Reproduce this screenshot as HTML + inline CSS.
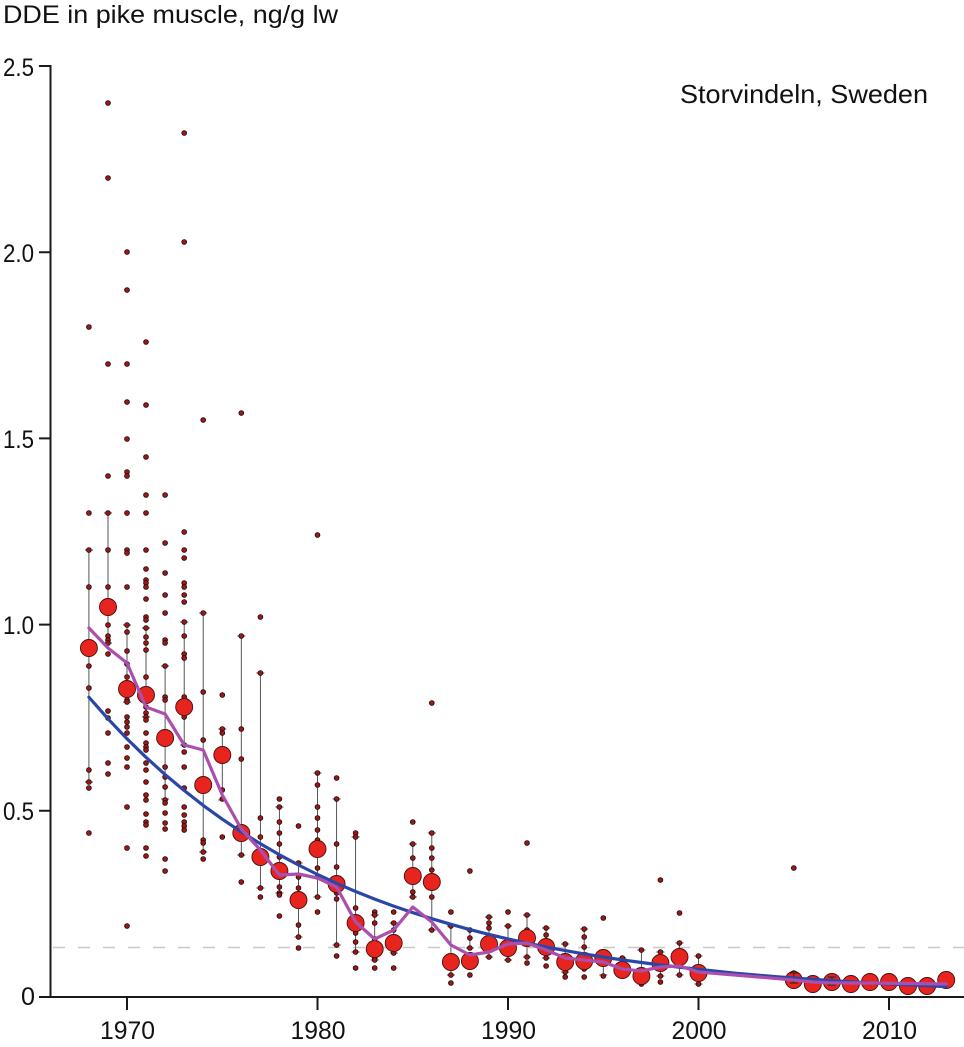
<!DOCTYPE html>
<html><head><meta charset="utf-8"><style>
html,body{margin:0;padding:0;background:#fff;}
svg{display:block;}
text{font-family:"Liberation Sans",sans-serif;fill:#111;}
</style></head><body>
<svg width="964" height="1047" viewBox="0 0 964 1047" xmlns="http://www.w3.org/2000/svg">
<rect width="964" height="1047" fill="#fff"/>
<text x="3" y="23" font-size="25" textLength="335" lengthAdjust="spacingAndGlyphs">DDE in pike muscle, ng/g lw</text>
<text x="680" y="103" font-size="26" textLength="248" lengthAdjust="spacingAndGlyphs">Storvindeln, Sweden</text>
<line x1="53" y1="947.5" x2="964" y2="947.5" stroke="#c8c8c8" stroke-width="1.5" stroke-dasharray="12,13"/>
<g stroke="#444" stroke-width="0.9" fill="none">
<path d="M88.9 550V782M84.9 550h8M84.9 782h8M108 513V643M104 513h8M104 643h8M127 625V702M123 625h8M123 702h8M146 628V717M142 628h8M142 717h8M165.1 666V799M161.1 666h8M161.1 799h8M184.2 622V745M180.2 622h8M180.2 745h8M203.2 613V852M199.2 613h8M199.2 852h8M222.3 729V800M218.3 729h8M218.3 800h8M241.3 636V855M237.3 636h8M237.3 855h8M260.4 673V888M256.4 673h8M256.4 888h8M279.4 807V893M275.4 807h8M275.4 893h8M298.5 863V937M294.5 863h8M294.5 937h8M317.5 773V897M313.5 773h8M313.5 897h8M336.6 799V945M332.6 799h8M332.6 945h8M355.6 837V952M351.6 837h8M351.6 952h8M374.7 915V960M370.7 915h8M370.7 960h8M393.7 923V953M389.7 923h8M389.7 953h8M412.8 844V897M408.8 844h8M408.8 897h8M431.8 833V930M427.8 833h8M427.8 930h8M450.9 926V975M446.9 926h8M446.9 975h8M469.9 930V948M465.9 930h8M465.9 948h8M489 917V957M485 917h8M485 957h8M508 926V960M504 926h8M504 960h8M527 915V957M523 915h8M523 957h8M546.1 928V958M542.1 928h8M542.1 958h8M565.2 944V972M561.2 944h8M561.2 972h8M584.2 929V969M580.2 929h8M580.2 969h8M603.3 950V975M599.3 950h8M599.3 975h8M622.3 958V975M618.3 958h8M618.3 975h8M641.4 950V984M637.4 950h8M637.4 984h8M660.4 952V976M656.4 952h8M656.4 976h8M679.5 943V975M675.5 943h8M675.5 975h8M698.5 956V984M694.5 956h8M694.5 984h8"/>
</g>
<g fill="#9a1818" stroke="#1a0505" stroke-width="0.8">
<g transform="translate(88.9,0)"><circle cy="327" r="2.4"/><circle cy="513" r="2.4"/><circle cy="550" r="2.4"/><circle cy="587" r="2.4"/><circle cy="666" r="2.4"/><circle cy="688" r="2.4"/><circle cy="770" r="2.4"/><circle cy="782" r="2.4"/><circle cy="788" r="2.4"/><circle cy="833" r="2.4"/></g>
<g transform="translate(108,0)"><circle cy="103" r="2.4"/><circle cy="178" r="2.4"/><circle cy="364" r="2.4"/><circle cy="476" r="2.4"/><circle cy="513" r="2.4"/><circle cy="550" r="2.4"/><circle cy="587" r="2.4"/><circle cy="625" r="2.4"/><circle cy="636" r="2.4"/><circle cy="640" r="2.4"/><circle cy="643" r="2.4"/><circle cy="654" r="2.4"/><circle cy="711" r="2.4"/><circle cy="718" r="2.4"/><circle cy="733" r="2.4"/><circle cy="763" r="2.4"/><circle cy="774" r="2.4"/></g>
<g transform="translate(127,0)"><circle cy="252" r="2.4"/><circle cy="290" r="2.4"/><circle cy="364" r="2.4"/><circle cy="402" r="2.4"/><circle cy="439" r="2.4"/><circle cy="472" r="2.4"/><circle cy="476" r="2.4"/><circle cy="513" r="2.4"/><circle cy="550" r="2.4"/><circle cy="553" r="2.4"/><circle cy="587" r="2.4"/><circle cy="625" r="2.4"/><circle cy="632" r="2.4"/><circle cy="651" r="2.4"/><circle cy="664" r="2.4"/><circle cy="677" r="2.4"/><circle cy="687" r="2.4"/><circle cy="700" r="2.4"/><circle cy="702" r="2.4"/><circle cy="717" r="2.4"/><circle cy="722" r="2.4"/><circle cy="727" r="2.4"/><circle cy="733" r="2.4"/><circle cy="747" r="2.4"/><circle cy="758" r="2.4"/><circle cy="767" r="2.4"/><circle cy="807" r="2.4"/><circle cy="848" r="2.4"/><circle cy="926" r="2.4"/></g>
<g transform="translate(146,0)"><circle cy="342" r="2.4"/><circle cy="405" r="2.4"/><circle cy="457" r="2.4"/><circle cy="495" r="2.4"/><circle cy="513" r="2.4"/><circle cy="550" r="2.4"/><circle cy="569" r="2.4"/><circle cy="580" r="2.4"/><circle cy="583" r="2.4"/><circle cy="587" r="2.4"/><circle cy="599" r="2.4"/><circle cy="617" r="2.4"/><circle cy="620" r="2.4"/><circle cy="628" r="2.4"/><circle cy="637" r="2.4"/><circle cy="643" r="2.4"/><circle cy="650" r="2.4"/><circle cy="677" r="2.4"/><circle cy="696" r="2.4"/><circle cy="707" r="2.4"/><circle cy="713" r="2.4"/><circle cy="717" r="2.4"/><circle cy="720" r="2.4"/><circle cy="733" r="2.4"/><circle cy="743" r="2.4"/><circle cy="747" r="2.4"/><circle cy="750" r="2.4"/><circle cy="763" r="2.4"/><circle cy="770" r="2.4"/><circle cy="782" r="2.4"/><circle cy="795" r="2.4"/><circle cy="800" r="2.4"/><circle cy="814" r="2.4"/><circle cy="822" r="2.4"/><circle cy="825" r="2.4"/><circle cy="848" r="2.4"/><circle cy="856" r="2.4"/></g>
<g transform="translate(165.1,0)"><circle cy="495" r="2.4"/><circle cy="543" r="2.4"/><circle cy="573" r="2.4"/><circle cy="595" r="2.4"/><circle cy="613" r="2.4"/><circle cy="640" r="2.4"/><circle cy="643" r="2.4"/><circle cy="666" r="2.4"/><circle cy="697" r="2.4"/><circle cy="700" r="2.4"/><circle cy="767" r="2.4"/><circle cy="777" r="2.4"/><circle cy="787" r="2.4"/><circle cy="800" r="2.4"/><circle cy="803" r="2.4"/><circle cy="813" r="2.4"/><circle cy="823" r="2.4"/><circle cy="829" r="2.4"/><circle cy="859" r="2.4"/><circle cy="871" r="2.4"/></g>
<g transform="translate(184.2,0)"><circle cy="133" r="2.4"/><circle cy="242" r="2.4"/><circle cy="532" r="2.4"/><circle cy="550" r="2.4"/><circle cy="558" r="2.4"/><circle cy="583" r="2.4"/><circle cy="587" r="2.4"/><circle cy="595" r="2.4"/><circle cy="602" r="2.4"/><circle cy="622" r="2.4"/><circle cy="636" r="2.4"/><circle cy="654" r="2.4"/><circle cy="658" r="2.4"/><circle cy="697" r="2.4"/><circle cy="717" r="2.4"/><circle cy="745" r="2.4"/><circle cy="752" r="2.4"/><circle cy="767" r="2.4"/><circle cy="788" r="2.4"/><circle cy="807" r="2.4"/><circle cy="815" r="2.4"/><circle cy="822" r="2.4"/><circle cy="826" r="2.4"/><circle cy="830" r="2.4"/></g>
<g transform="translate(203.2,0)"><circle cy="420" r="2.4"/><circle cy="613" r="2.4"/><circle cy="692" r="2.4"/><circle cy="740" r="2.4"/><circle cy="840" r="2.4"/><circle cy="843" r="2.4"/><circle cy="852" r="2.4"/><circle cy="859" r="2.4"/></g>
<g transform="translate(222.3,0)"><circle cy="695" r="2.4"/><circle cy="729" r="2.4"/><circle cy="733" r="2.4"/><circle cy="790" r="2.4"/><circle cy="799" r="2.4"/><circle cy="837" r="2.4"/></g>
<g transform="translate(241.3,0)"><circle cy="413" r="2.4"/><circle cy="636" r="2.4"/><circle cy="729" r="2.4"/><circle cy="759" r="2.4"/><circle cy="828" r="2.4"/><circle cy="855" r="2.4"/><circle cy="882" r="2.4"/></g>
<g transform="translate(260.4,0)"><circle cy="617" r="2.4"/><circle cy="673" r="2.4"/><circle cy="818" r="2.4"/><circle cy="837" r="2.4"/><circle cy="888" r="2.4"/><circle cy="897" r="2.4"/></g>
<g transform="translate(279.4,0)"><circle cy="799" r="2.4"/><circle cy="807" r="2.4"/><circle cy="822" r="2.4"/><circle cy="833" r="2.4"/><circle cy="844" r="2.4"/><circle cy="857" r="2.4"/><circle cy="887" r="2.4"/><circle cy="893" r="2.4"/><circle cy="895" r="2.4"/><circle cy="916" r="2.4"/></g>
<g transform="translate(298.5,0)"><circle cy="826" r="2.4"/><circle cy="863" r="2.4"/><circle cy="877" r="2.4"/><circle cy="888" r="2.4"/><circle cy="925" r="2.4"/><circle cy="937" r="2.4"/><circle cy="948" r="2.4"/></g>
<g transform="translate(317.5,0)"><circle cy="535" r="2.4"/><circle cy="773" r="2.4"/><circle cy="785" r="2.4"/><circle cy="807" r="2.4"/><circle cy="818" r="2.4"/><circle cy="830" r="2.4"/><circle cy="840" r="2.4"/><circle cy="868" r="2.4"/><circle cy="877" r="2.4"/><circle cy="897" r="2.4"/><circle cy="912" r="2.4"/></g>
<g transform="translate(336.6,0)"><circle cy="778" r="2.4"/><circle cy="799" r="2.4"/><circle cy="844" r="2.4"/><circle cy="867" r="2.4"/><circle cy="878" r="2.4"/><circle cy="893" r="2.4"/><circle cy="899" r="2.4"/><circle cy="945" r="2.4"/><circle cy="956" r="2.4"/></g>
<g transform="translate(355.6,0)"><circle cy="833" r="2.4"/><circle cy="837" r="2.4"/><circle cy="908" r="2.4"/><circle cy="933" r="2.4"/><circle cy="942" r="2.4"/><circle cy="952" r="2.4"/><circle cy="968" r="2.4"/></g>
<g transform="translate(374.7,0)"><circle cy="912" r="2.4"/><circle cy="915" r="2.4"/><circle cy="923" r="2.4"/><circle cy="939" r="2.4"/><circle cy="958" r="2.4"/><circle cy="960" r="2.4"/><circle cy="968" r="2.4"/></g>
<g transform="translate(393.7,0)"><circle cy="912" r="2.4"/><circle cy="923" r="2.4"/><circle cy="930" r="2.4"/><circle cy="953" r="2.4"/><circle cy="968" r="2.4"/></g>
<g transform="translate(412.8,0)"><circle cy="822" r="2.4"/><circle cy="844" r="2.4"/><circle cy="858" r="2.4"/><circle cy="892" r="2.4"/><circle cy="897" r="2.4"/></g>
<g transform="translate(431.8,0)"><circle cy="703" r="2.4"/><circle cy="833" r="2.4"/><circle cy="848" r="2.4"/><circle cy="858" r="2.4"/><circle cy="870" r="2.4"/><circle cy="897" r="2.4"/><circle cy="930" r="2.4"/></g>
<g transform="translate(450.9,0)"><circle cy="912" r="2.4"/><circle cy="926" r="2.4"/><circle cy="975" r="2.4"/><circle cy="983" r="2.4"/></g>
<g transform="translate(469.9,0)"><circle cy="871" r="2.4"/><circle cy="930" r="2.4"/><circle cy="938" r="2.4"/><circle cy="948" r="2.4"/><circle cy="975" r="2.4"/></g>
<g transform="translate(489,0)"><circle cy="917" r="2.4"/><circle cy="923" r="2.4"/><circle cy="928" r="2.4"/><circle cy="957" r="2.4"/></g>
<g transform="translate(508,0)"><circle cy="912" r="2.4"/><circle cy="926" r="2.4"/><circle cy="960" r="2.4"/></g>
<g transform="translate(527,0)"><circle cy="843" r="2.4"/><circle cy="915" r="2.4"/><circle cy="930" r="2.4"/><circle cy="957" r="2.4"/><circle cy="963" r="2.4"/></g>
<g transform="translate(546.1,0)"><circle cy="928" r="2.4"/><circle cy="935" r="2.4"/><circle cy="958" r="2.4"/><circle cy="966" r="2.4"/></g>
<g transform="translate(565.2,0)"><circle cy="944" r="2.4"/><circle cy="972" r="2.4"/><circle cy="977" r="2.4"/></g>
<g transform="translate(584.2,0)"><circle cy="929" r="2.4"/><circle cy="937" r="2.4"/><circle cy="947" r="2.4"/><circle cy="969" r="2.4"/><circle cy="977" r="2.4"/></g>
<g transform="translate(603.3,0)"><circle cy="918" r="2.4"/><circle cy="976" r="2.4"/></g>
<g transform="translate(622.3,0)"><circle cy="958" r="2.4"/></g>
<g transform="translate(641.4,0)"><circle cy="950" r="2.4"/><circle cy="984" r="2.4"/></g>
<g transform="translate(660.4,0)"><circle cy="880" r="2.4"/><circle cy="952" r="2.4"/><circle cy="976" r="2.4"/><circle cy="982" r="2.4"/></g>
<g transform="translate(679.5,0)"><circle cy="913" r="2.4"/><circle cy="943" r="2.4"/><circle cy="975" r="2.4"/></g>
<g transform="translate(698.5,0)"><circle cy="956" r="2.4"/><circle cy="984" r="2.4"/></g>
<g transform="translate(793.8,0)"><circle cy="868" r="2.4"/><circle cy="973" r="2.4"/></g>
</g>
<g fill="#e8241e" stroke="#4a0d0d" stroke-width="0.9">
<circle cx="88.9" cy="648" r="8.5"/><circle cx="108" cy="607" r="8.5"/><circle cx="127" cy="689" r="8.5"/><circle cx="146" cy="695" r="8.5"/><circle cx="165.1" cy="738" r="8.5"/><circle cx="184.2" cy="707" r="8.5"/><circle cx="203.2" cy="785" r="8.5"/><circle cx="222.3" cy="755" r="8.5"/><circle cx="241.3" cy="833" r="8.5"/><circle cx="260.4" cy="857" r="8.5"/><circle cx="279.4" cy="871" r="8.5"/><circle cx="298.5" cy="900" r="8.5"/><circle cx="317.5" cy="849" r="8.5"/><circle cx="336.6" cy="884" r="8.5"/><circle cx="355.6" cy="923" r="8.5"/><circle cx="374.7" cy="949" r="8.5"/><circle cx="393.7" cy="943" r="8.5"/><circle cx="412.8" cy="876" r="8.5"/><circle cx="431.8" cy="882" r="8.5"/><circle cx="450.9" cy="962" r="8.5"/><circle cx="469.9" cy="961" r="8.5"/><circle cx="489" cy="944" r="8.5"/><circle cx="508" cy="948" r="8.5"/><circle cx="527" cy="938" r="8.5"/><circle cx="546.1" cy="947" r="8.5"/><circle cx="565.2" cy="962" r="8.5"/><circle cx="584.2" cy="961" r="8.5"/><circle cx="603.3" cy="958" r="8.5"/><circle cx="622.3" cy="970" r="8.5"/><circle cx="641.4" cy="976" r="8.5"/><circle cx="660.4" cy="963" r="8.5"/><circle cx="679.5" cy="957" r="8.5"/><circle cx="698.5" cy="973" r="8.5"/><circle cx="793.8" cy="980" r="8.5"/><circle cx="812.8" cy="984" r="8.5"/><circle cx="831.9" cy="982" r="8.5"/><circle cx="850.9" cy="984" r="8.5"/><circle cx="870" cy="982" r="8.5"/><circle cx="889" cy="982" r="8.5"/><circle cx="908" cy="986" r="8.5"/><circle cx="927.1" cy="986" r="8.5"/><circle cx="946.2" cy="980" r="8.5"/>
</g>
<path d="M793.8 973V983M789.8 973h8M789.8 983h8M831.9 977V985M827.9 977h8M827.9 985h8" stroke="#222" stroke-width="0.9" fill="none"/>
<polyline fill="none" stroke="#2a47a8" stroke-width="3.2" stroke-linejoin="round" stroke-linecap="round" points="88.9,697.2 108,718.8 127,738.8 146,757.3 165.1,774.6 184.2,790.5 203.2,805.4 222.3,819.2 241.3,831.9 260.4,843.8 279.4,854.8 298.5,865 317.5,874.5 336.6,883.3 355.6,891.5 374.7,899.1 393.7,906.1 412.8,912.6 431.8,918.7 450.9,924.3 469.9,929.6 489,934.4 508,938.9 527,943.1 546.1,947 565.2,950.6 584.2,953.9 603.3,957 622.3,959.9 641.4,962.5 660.4,965 698.5,969.4 736.6,973.3 774.7,976.6 812.8,979.4 850.9,981.8 889,983.9 946.2,986.6"/>
<polyline fill="none" stroke="#ab4fae" stroke-width="3.2" stroke-linejoin="round" stroke-linecap="round" points="88.9,628 108,648 127,663 146,707 165.1,714 184.2,745 203.2,750 222.3,795 241.3,829 260.4,850 279.4,875 298.5,874 317.5,878 336.6,887 355.6,922 374.7,939 393.7,930 412.8,907 431.8,922 450.9,945 469.9,955 489,952 508,944 527,943 546.1,950 565.2,958 584.2,960 603.3,962 622.3,969 641.4,971 660.4,967 679.5,966 698.5,972 793.8,980 812.8,982 831.9,983 870,983 946.2,984"/>
<g stroke="#1a1a1a" stroke-width="2" fill="none">
<line x1="50.5" y1="65" x2="50.5" y2="998"/>
<line x1="49.5" y1="997" x2="964" y2="997"/>
<path d="M39 997H50M39 810.8H50M39 624.6H50M39 438.4H50M39 252.2H50M39 66H50M127 997V1010M317.5 997V1010M508 997V1010M698.5 997V1010M889 997V1010"/>
</g>
<g font-size="25">
<text x="21" y="1005" textLength="14" lengthAdjust="spacingAndGlyphs">0</text>
<text x="3" y="820" textLength="31" lengthAdjust="spacingAndGlyphs">0.5</text>
<text x="3" y="634" textLength="31" lengthAdjust="spacingAndGlyphs">1.0</text>
<text x="3" y="448" textLength="31" lengthAdjust="spacingAndGlyphs">1.5</text>
<text x="3" y="262" textLength="31" lengthAdjust="spacingAndGlyphs">2.0</text>
<text x="3" y="76" textLength="31" lengthAdjust="spacingAndGlyphs">2.5</text>
<text x="100" y="1039" textLength="55" lengthAdjust="spacingAndGlyphs">1970</text>
<text x="290.5" y="1039" textLength="55" lengthAdjust="spacingAndGlyphs">1980</text>
<text x="481" y="1039" textLength="55" lengthAdjust="spacingAndGlyphs">1990</text>
<text x="671.5" y="1039" textLength="55" lengthAdjust="spacingAndGlyphs">2000</text>
<text x="862" y="1039" textLength="55" lengthAdjust="spacingAndGlyphs">2010</text>
</g>
</svg>
</body></html>
